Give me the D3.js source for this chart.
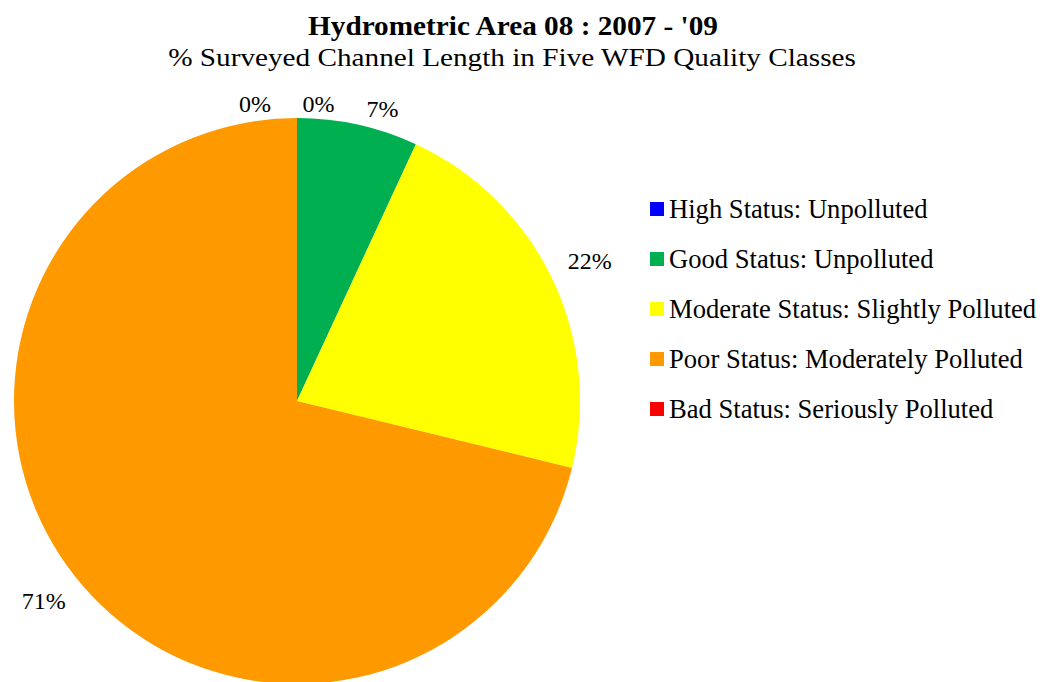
<!DOCTYPE html>
<html>
<head>
<meta charset="utf-8">
<script src="https://cdn.jsdelivr.net/npm/d3@7"></script>
<style>
  body { margin: 0; background: #fff; }
  text { font-family: "Liberation Serif", "Times New Roman", serif; fill: #000; }
</style>
</head>
<body>
<div id="chart"></div>
<script>
var chartTitle = "Hydrometric Area 08 : 2007 - '09";
var chartSubtitle = "% Surveyed Channel Length in Five WFD Quality Classes";

// WFD quality classes, in pie order (clockwise from 12 o'clock)
var categories = [
  "High Status: Unpolluted",
  "Good Status: Unpolluted",
  "Moderate Status: Slightly Polluted",
  "Poor Status: Moderately Polluted",
  "Bad Status: Seriously Polluted"
];
var percentages = [0, 6.9, 21.9, 71.2, 0];
var sliceColors = ["#0000FF", "#00B050", "#FFFF00", "#FF9900", "#FF0000"];

function render() {
  var width = 1042;
  var height = 682;

  var cx = 297, cy = 401, radius = 283;
  var labelPad = 6;    // gap between pie edge and label box
  var sidePad = 14;    // extra room for labels on the sides
  var labelGap = 31;   // min gap between neighbouring labels at the top

  var svg = d3.select("#chart").append("svg")
    .attr("width", width)
    .attr("height", height);

  // titles
  svg.append("text")
    .attr("x", 513).attr("y", 35)
    .attr("text-anchor", "middle")
    .attr("textLength", 410)
    .attr("lengthAdjust", "spacingAndGlyphs")
    .style("font-size", "27px")
    .style("font-weight", "bold")
    .text(chartTitle);

  // the subtitle in the original is drawn wide: stretch it horizontally
  var sub = svg.append("text")
    .attr("text-anchor", "middle")
    .style("font-size", "25px")
    .text(chartSubtitle);
  var subW = sub.node().getComputedTextLength();
  sub.attr("transform", "translate(512,66) scale(" + (688 / subW) + ",1)");

  var pie = d3.pie().sort(null).value(function(d) { return d; });
  var arcs = pie(percentages);
  var arc = d3.arc().innerRadius(0).outerRadius(radius);

  var g = svg.append("g").attr("transform", "translate(" + cx + "," + cy + ")");

  g.selectAll("path.slice")
    .data(arcs)
    .enter()
    .append("path")
    .attr("class", "slice")
    .attr("d", arc)
    .attr("fill", function(d, i) { return sliceColors[i]; });

  // data labels, outside end
  var fmt = d3.format(".0%");
  var labels = g.selectAll("text.lbl")
    .data(arcs)
    .enter()
    .append("text")
    .attr("class", "lbl")
    .attr("text-anchor", "middle")
    .style("font-size", "24px")
    .text(function(d) { return fmt(d.data / 100); });

  var info = [];
  labels.each(function(d, i) {
    var mid = (d.startAngle + d.endAngle) / 2;
    info.push({
      node: this,
      raw: mid,
      ang: mid > Math.PI ? mid - 2 * Math.PI : mid,
      w: this.getComputedTextLength(),
      h: 16
    });
  });

  // spread labels that sit on top of each other (the zero slices)
  var sorted = info.slice().sort(function(a, b) {
    return (a.ang - b.ang) || (b.raw - a.raw);
  });
  var rTop = radius + labelPad + 8;
  for (var k = 0; k < 60; k++) {
    for (var i = 0; i < sorted.length - 1; i++) {
      var a = sorted[i], b = sorted[i + 1];
      var need = (a.w / 2 + b.w / 2 + labelGap) / rTop;
      var diff = b.ang - a.ang;
      if (diff < need) {
        a.ang -= (need - diff) / 2;
        b.ang += (need - diff) / 2;
      }
    }
  }

  info.forEach(function(o) {
    var s = Math.sin(o.ang), c = Math.cos(o.ang);
    var dist = radius + labelPad + Math.abs(s) * (o.w / 2 + sidePad) + Math.abs(c) * o.h / 2;
    d3.select(o.node)
      .attr("x", s * dist)
      .attr("y", -c * dist + 9);
  });

  // legend
  var legend = svg.append("g").attr("transform", "translate(650,209)");
  var rows = legend.selectAll("g")
    .data(categories)
    .enter()
    .append("g")
    .attr("transform", function(d, i) { return "translate(0," + (i * 50) + ")"; });

  rows.append("rect")
    .attr("x", 0).attr("y", -7)
    .attr("width", 14).attr("height", 14)
    .attr("fill", function(d, i) { return sliceColors[i]; });

  rows.append("text")
    .attr("x", 19).attr("y", 9)
    .style("font-size", "26.6px")
    .text(function(d) { return d; });
}

render();
</script>
</body>
</html>
